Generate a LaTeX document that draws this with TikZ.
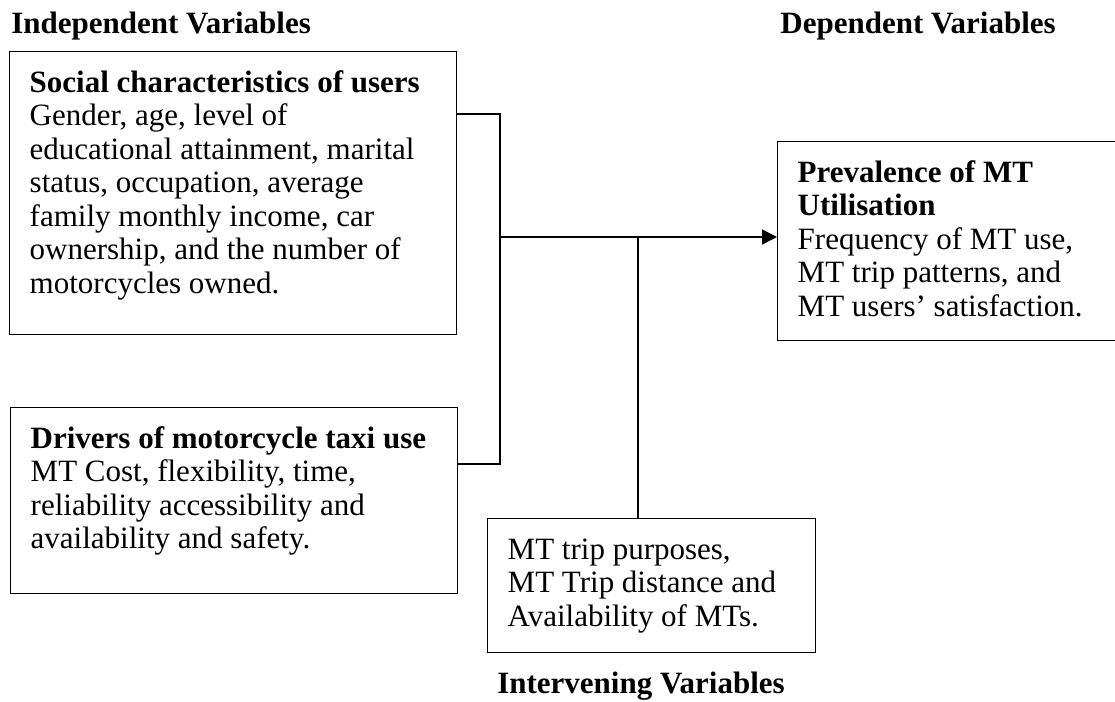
\documentclass[tikz,border=0pt]{standalone}
\usepackage{fontspec}
\setmainfont{Liberation Serif}
\usetikzlibrary{positioning, arrows.meta, calc}

\newcommand{\boxtext}[3]{%
  \begin{minipage}[t][#2][t]{#1}\raggedright\strut#3\end{minipage}}

\begin{document}
\begin{tikzpicture}[x=0.5pt, y=-0.5pt,
  every node/.style={font=\fontsize{15.5pt}{16.75pt}\selectfont},
  varbox/.style={draw, 
    line width=0.7pt, 
    anchor=north west, 
    inner xsep=10pt, 
    inner ysep=8.5pt},
  heading/.style={font=\fontsize{15.5pt}{16.75pt}\selectfont\bfseries, 
    inner sep=0pt},
  link/.style={line width=0.7pt}]

  \useasboundingbox (0,0) rectangle (1115,702);

  % TITLES

  \node [heading, anchor=base west] (indeptitle) at (11,33) {Independent Variables};
  \node [heading, anchor=base west] (deptitle) at (780,33) {Dependent Variables};
  \node [heading, anchor=base] (intertitle) at (641,693) {Intervening Variables};

  % BOXES

  \node [varbox] (social) at (9,51) {\boxtext{203.5pt}{124.5pt}{%
    \textbf{Social characteristics of users}\\
    Gender, age, level of\\
    educational attainment, marital\\
    status, occupation, average\\
    family monthly income, car\\
    ownership, and the number of\\
    motorcycles owned.}};

  \node [varbox] (drivers) at (10,407) {\boxtext{203.5pt}{76pt}{%
    \textbf{Drivers of motorcycle taxi use}\\
    MT Cost, flexibility, time,\\
    reliability accessibility and\\
    availability and safety.}};

  \node [varbox] (inter) at (487,518) {\boxtext{144pt}{50pt}{%
    MT trip purposes,\\
    MT Trip distance and\\
    Availability of MTs.}};

  \node [varbox] (prev) at (777,141) {\boxtext{151.5pt}{82.5pt}{%
    \textbf{Prevalence of MT}\\
    \textbf{Utilisation}\\
    Frequency of MT use,\\
    MT trip patterns, and\\
    MT users’ satisfaction.}};

% CONNECTORS

  \coordinate (jtop) at (500,114);
  \coordinate (jbot) at (500,464);
  \coordinate (join) at (500,237);
  \coordinate (tee) at (638,237);

  \draw[link] (social.east |- jtop) -- (jtop) -- (jbot) -- (drivers.east |- jbot);
  \draw[link, -{Triangle[length=7.5pt, width=7.5pt]}] (join) -- (prev.west |- join);
  \draw[link] (tee) -- (inter.north -| tee);

\end{tikzpicture}
\end{document}
